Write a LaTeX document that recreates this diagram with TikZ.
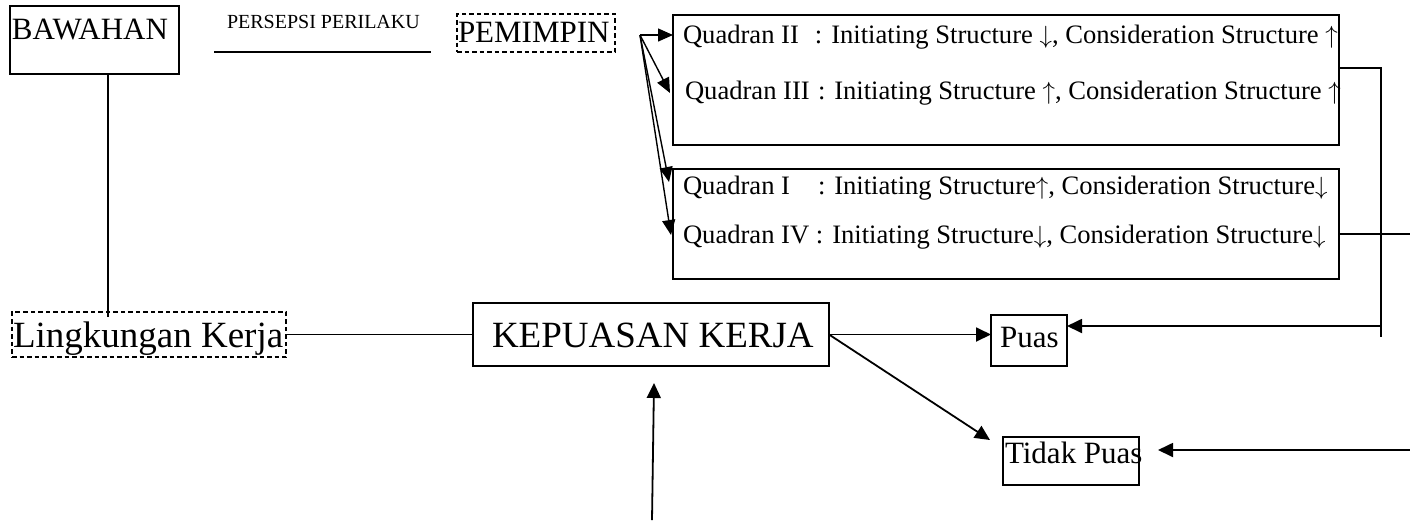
\documentclass[tikz,border=0pt]{standalone}
\usepackage{fontspec}
\setmainfont{Liberation Serif}
\usetikzlibrary{arrows.meta,calc}
\newcommand{\UpA}{$\uparrow$}
\newcommand{\DnA}{$\downarrow$}
\begin{document}
\begin{tikzpicture}[x=1pt,y=-1pt,
  box/.style={draw, line width=1.9pt, inner sep=0pt, outer sep=0pt, anchor=north west},
  dbox/.style={box, dash pattern=on 4.5pt off 3pt, line width=2.2pt},
  lbl/.style={inner sep=0pt, outer sep=0pt, anchor=base west},
  qfont/.style={font=\fontsize{26.6}{30}\selectfont},
  conn/.style={line width=1.8pt},
  arr/.style={conn, -{Triangle[length=15pt,width=14pt]}},
  thinarr/.style={line width=1.4pt, -{Triangle[length=15pt,width=13pt]}}
]
\useasboundingbox (0,0) rectangle (1410,523);

% boxes
\node[box, minimum width=169pt, minimum height=68pt] (baw) at (10,6) {};
\node[dbox, minimum width=158pt, minimum height=38pt] (pem) at (457,14) {};
\node[box, minimum width=666pt, minimum height=130pt] (qa) at (673,15) {};
\node[box, minimum width=666pt, minimum height=110pt] (qb) at (673,169) {};
\node[dbox, minimum width=274pt, minimum height=45pt] (ling) at (12,312) {};
\node[box, minimum width=356pt, minimum height=63pt] (kep) at (473,303) {};
\node[box, minimum width=76pt, minimum height=51pt] (puas) at (991,315) {};
\node[box, minimum width=136pt, minimum height=48pt] (tp) at (1003,437) {};

% texts
\node[lbl, font=\fontsize{31}{36}\selectfont] (bawt) at (12,39) {BAWAHAN};
\node[lbl, font=\fontsize{20}{24}\selectfont] (pers) at (227,28) {PERSEPSI PERILAKU};
\node[lbl, font=\fontsize{31}{36}\selectfont] (pemt) at (458,42) {PEMIMPIN};
\node[lbl, qfont] (q2) at (683,43) {\makebox[132pt][l]{Quadran II}: Initiating Structure \DnA, Consideration Structure \UpA};
\node[lbl, qfont] (q3) at (685,99) {\makebox[133pt][l]{Quadran III}: Initiating Structure \UpA, Consideration Structure \UpA};
\node[lbl, qfont] (q1) at (683,194) {\makebox[135pt][l]{Quadran I}: Initiating Structure\UpA, Consideration Structure\DnA};
\node[lbl, qfont] (q4) at (683,243) {\makebox[133pt][l]{Quadran IV}: Initiating Structure\DnA, Consideration Structure\DnA};
\node[lbl, font=\fontsize{37}{42}\selectfont] (lingt) at (13,347) {Lingkungan Kerja};
\node[lbl, font=\fontsize{37}{42}\selectfont] (kept) at (492,347) {KEPUASAN KERJA};
\node[lbl, font=\fontsize{31}{36}\selectfont] (puast) at (1000,347) {Puas};
\node[lbl, font=\fontsize{31}{36}\selectfont] (tpt) at (1005,463) {Tidak Puas};

% coordinates
\coordinate (c1) at (108,317);
\coordinate (pl1) at (214,52);
\coordinate (pl2) at (431,52);
\coordinate (po) at (640,35);
\coordinate (t2) at (670,93);
\coordinate (t3) at (669,182);
\coordinate (t4) at (671,235);
\coordinate (r1) at (1381,68);
\coordinate (r2) at (1381,337);
\coordinate (r3) at (1381,326);
\coordinate (r4) at (1410,234);
\coordinate (r5) at (1410,450);
\coordinate (r6) at (1158,450);
\coordinate (td) at (990,440);
\coordinate (ub) at (652,520);
\coordinate (ut) at (654,383);

% connectors
\draw[conn] (baw.south -| c1) -- (c1);
\draw[conn] (pl1) -- (pl2);
\draw[thinarr] (po) -- (po -| qa.west);
\draw[thinarr] (po) -- (t2);
\draw[thinarr] (po) -- (t3);
\draw[thinarr] (po) -- (t4);
\draw[conn] (qa.east |- r1) -- (r1) -- (r2);
\draw[arr] (r3) -- (r3 -| puas.east);
\draw[conn] (qb.east |- r4) -- (r4);
\draw[arr] (r5) -- (r6);
\draw[conn] (ling.east) -- (kep.west);
\draw[arr] (kep.east) -- (kep.east -| puas.west);
\draw[arr] (kep.east) -- (td);
\draw[arr] (ub) -- (ut);
\end{tikzpicture}
\end{document}
